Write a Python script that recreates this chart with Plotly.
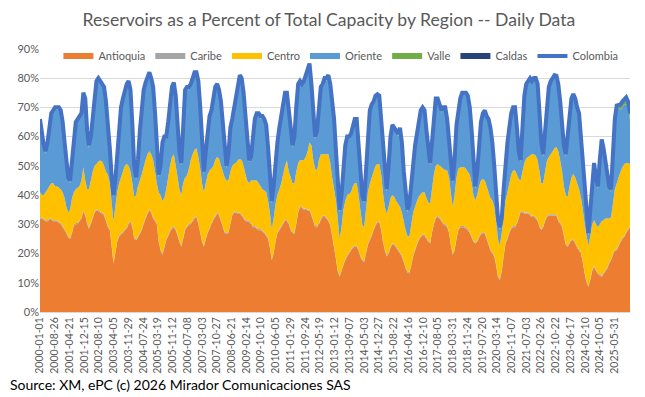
import plotly.graph_objects as go
import pandas as pd

# Monthly readings (percent of total national capacity), Jan 2000 .. Feb 2026
colombia = [
    66, 61, 57, 55, 58, 63, 68, 69, 70, 70, 70, 69,
    65, 58, 51, 46, 45, 52, 60, 65, 66, 67, 68, 75,
    73, 62, 57, 60, 67, 74, 79, 80, 79, 78, 77, 72,
    65, 56, 47, 40, 45, 55, 64, 70, 73, 76, 78, 79,
    76, 64, 50, 46, 52, 62, 70, 76, 78.5, 80, 82, 80,
    77, 68, 56, 47, 50, 58, 60, 60, 65, 72, 77, 78.5,
    74, 64, 55, 51, 65, 76, 77, 77, 78, 80, 82, 82,
    79, 70, 58, 48, 55, 63, 67, 69, 74, 77, 78, 76,
    72, 63, 55, 50, 54, 63, 66, 70, 75, 78, 81, 80,
    75, 67, 58, 52, 53, 60, 66, 68, 68, 67, 67, 66,
    64, 56, 46, 38, 43, 52, 58, 63, 67, 71, 75, 75,
    70, 63, 57, 60, 70, 78, 79, 78, 79, 81, 84, 85,
    78, 66, 60, 62, 72, 77, 78, 80, 80, 81, 78, 72,
    66, 55, 43, 35, 40, 50, 57, 60, 60, 61, 64, 66,
    66, 58, 48, 40, 38, 48, 62, 69, 71, 72, 74, 74.5,
    74, 66, 55, 47, 42, 50, 60, 64, 63, 62, 61, 63,
    58, 48, 40, 35, 37, 45, 52, 57, 61, 65, 69, 70,
    69, 62, 55, 51, 58, 68, 73, 73, 71, 69, 70, 70,
    66, 60, 52, 45, 52, 64, 70, 73, 75, 75, 75, 74,
    70, 62, 50, 43, 48, 58, 65, 68, 69, 67, 66, 63,
    58, 50, 40, 32, 29, 32, 42, 52, 58, 63, 68, 70,
    70, 63, 55, 52, 62, 74, 78, 79, 80, 79, 80, 80,
    78, 68, 58, 54, 62, 72, 77, 79, 80, 81, 80.8, 78,
    72, 64, 57, 54, 60, 68, 73, 74.6, 73, 70, 68, 60,
    52, 42, 33, 27, 35, 46, 51, 46, 43, 52, 59, 56,
    52, 47, 43, 42, 55, 66, 70.6, 71, 71, 72, 73, 73.4,
    72, 68,
]

antioquia = [
    32, 32, 31.5, 31, 31, 31.5, 31.5, 31, 31, 31, 30.5, 30,
    29, 28, 27, 25.5, 25, 27, 29.5, 30, 30, 31, 32, 34.5,
    33, 30, 28.5, 30, 32, 34, 34.7, 34.5, 34, 33.6, 33, 31,
    29, 28, 23, 16.5, 20, 24, 25.7, 26.5, 27, 28, 28.5, 30,
    30.8, 29, 25, 24.5, 25.5, 26.8, 28, 30, 32, 33.5, 34.7, 34,
    32, 31, 30, 24, 21, 19.5, 22, 24.5, 26, 27.5, 28.5, 29,
    28, 26, 24, 22.3, 25, 28, 29, 29.6, 30, 31, 32, 32.5,
    30, 27, 24, 22.3, 25, 27, 28.4, 30, 31.5, 32.5, 33.6, 33,
    31, 29, 27, 26.8, 27, 30, 33, 34, 34, 33.5, 33.6, 33,
    32, 31, 31, 30.8, 30, 29, 29, 28.5, 28, 28, 27.5, 27,
    26, 25, 22, 17.7, 20, 24, 27, 28, 29, 30, 31.4, 31,
    30, 28, 27, 26.8, 30, 34, 35.9, 35.5, 35, 35, 34.7, 34.7,
    33, 31, 29, 29, 30, 31.5, 32.5, 32.5, 32, 31, 29.5, 26,
    22, 18, 14, 12, 14, 16, 17.7, 19, 20, 21, 22, 22.3,
    22.3, 21, 19, 17.5, 17.1, 20, 23, 24.5, 26, 28, 29.5, 30.5,
    30.8, 28, 24, 21, 19, 20, 22, 23, 22.9, 22, 21, 20,
    19, 17, 15, 13.5, 13.2, 16, 19, 21, 23, 24.5, 25.7, 26,
    26, 25, 24, 23.4, 27, 30, 32, 32.5, 32, 31, 30, 29.5,
    29, 27, 23, 19.5, 21, 25, 28, 29, 29, 29, 28.5, 28,
    27, 25.5, 24, 23.4, 24, 25.5, 26.5, 27, 26.8, 25, 23, 21,
    20, 19, 16, 12, 10.9, 14, 19, 23.4, 25, 27, 28.5, 29,
    29, 30, 32, 34.2, 34, 33.6, 33.6, 33.6, 33, 32.5, 32.5, 32,
    31, 29, 28, 29, 31, 32.5, 33, 33, 33, 33, 33, 31,
    30.2, 29, 26, 23, 22.3, 23.5, 24.5, 24.5, 23.5, 22, 21, 20,
    17, 13, 10, 8.6, 11, 14, 15.5, 14, 13, 12.5, 12, 13,
    14, 15, 16.5, 17.7, 19.5, 21, 21.1, 22.5, 24, 25, 25.7, 27,
    28, 29,
]

caribe = [
    0.4, 0.4, 0.4, 0.4, 0.4, 0.4, 0.4, 0.4, 0.4, 0.4, 0.4, 0.4,
    0.4, 0.4, 0.4, 0.4, 0.4, 0.4, 0.4, 0.4, 0.4, 0.4, 0.4, 0.4,
    0.4, 0.4, 0.4, 0.4, 0.4, 0.4, 0.4, 0.4, 0.4, 0.4, 0.4, 0.4,
    0.4, 0.4, 0.4, 0.4, 0.4, 0.4, 0.4, 0.4, 0.4, 0.4, 0.4, 0.4,
    0.4, 0.4, 0.4, 0.4, 0.4, 0.4, 0.4, 0.4, 0.4, 0.4, 0.4, 0.4,
    0.4, 0.4, 0.4, 0.4, 0.4, 0.4, 0.4, 0.4, 0.4, 0.4, 0.4, 0.4,
    0.4, 0.4, 0.4, 0.4, 0.4, 0.4, 0.4, 0.4, 0.4, 0.4, 0.4, 0.4,
    0.4, 0.4, 0.4, 0.4, 0.4, 0.4, 0.4, 0.4, 0.4, 0.4, 0.4, 0.4,
    0.4, 0.4, 0.4, 0.4, 0.4, 0.4, 0.4, 0.4, 0.4, 0.4, 0.4, 0.4,
    0.4, 0.4, 0.4, 0.4, 0.4, 0.4, 0.4, 0.4, 0.4, 0.4, 0.4, 0.4,
    0.4, 0.4, 0.4, 0.4, 0.4, 0.4, 0.4, 0.4, 0.4, 0.4, 0.4, 0.4,
    0.4, 0.4, 0.4, 0.4, 0.4, 0.4, 0.4, 0.4, 0.4, 0.4, 0.4, 0.4,
    0.4, 0.4, 0.4, 0.4, 0.4, 0.4, 0.4, 0.4, 0.4, 0.4, 0.4, 0.4,
    0.4, 0.4, 0.4, 0.4, 0.4, 0.4, 0.4, 0.4, 0.4, 0.4, 0.4, 0.4,
    0.4, 0.4, 0.4, 0.4, 0.4, 0.4, 0.4, 0.4, 0.4, 0.4, 0.4, 0.4,
    0.4, 0.4, 0.4, 0.4, 0.4, 0.4, 0.4, 0.4, 0.4, 0.4, 0.4, 0.4,
    0.4, 0.4, 0.4, 0.4, 0.4, 0.4, 0.4, 0.4, 0.4, 0.4, 0.4, 0.4,
    0.4, 0.4, 0.4, 0.4, 0.4, 0.4, 0.4, 0.4, 0.4, 0.4, 0.4, 0.4,
    0.4, 0.4, 0.4, 0.4, 0.4, 0.4, 0.4, 0.4, 0.4, 0.4, 0.4, 0.4,
    0.4, 0.4, 0.4, 0.4, 0.4, 0.4, 0.4, 0.4, 0.4, 0.4, 0.4, 0.4,
    0.4, 0.4, 0.4, 0.4, 0.4, 0.4, 0.4, 0.4, 0.4, 0.4, 0.4, 0.4,
    0.4, 0.4, 0.4, 0.4, 0.4, 0.4, 0.4, 0.4, 0.4, 0.4, 0.4, 0.4,
    0.4, 0.4, 0.4, 0.4, 0.4, 0.4, 0.4, 0.4, 0.4, 0.4, 0.4, 0.4,
    0.4, 0.4, 0.4, 0.4, 0.4, 0.4, 0.4, 0.4, 0.4, 0.4, 0.4, 0.4,
    0.4, 0.4, 0.4, 0.4, 0.4, 0.4, 0.4, 0.4, 0.4, 0.4, 0.4, 0.4,
    0.4, 0.4, 0.4, 0.4, 0.4, 0.4, 0.4, 0.4, 0.4, 0.4, 0.4, 0.4,
    0.4, 0.4,
]

centro = [
    8.6, 7.6, 8.1, 9.6, 10.6, 11.1, 12.1, 12.6, 11.6, 11.6, 11.6, 11.6,
    11.6, 10.6, 8.6, 8.1, 9.6, 11.6, 11.1, 11.6, 12.1, 11.6, 12.6, 14.6,
    11.6, 11.6, 13.1, 14.6, 15.6, 15.6, 15.5, 16.6, 17.4, 17.5, 16.6, 16.6,
    17.6, 15.6, 14.6, 14.1, 15.6, 16.6, 17.9, 19.1, 20.6, 21.6, 21.7, 19.6,
    16.8, 14.6, 13.9, 15.1, 17.1, 17.8, 18.6, 19.1, 19.6, 20.1, 19.9, 19.6,
    19.6, 16.6, 13.6, 16.6, 18.6, 18.1, 16.6, 17.1, 19.6, 22.1, 24.1, 24.6,
    21.6, 19.6, 17.6, 17.3, 18.6, 17.6, 17.3, 19.0, 21.6, 22.6, 23.1, 23.1,
    22.6, 21.6, 19.6, 18.3, 18.6, 19.6, 19.6, 18.6, 18.1, 19.1, 19.0, 19.1,
    18.6, 18.6, 18.6, 17.8, 17.6, 17.6, 16.6, 16.2, 16.6, 18.1, 18.3, 18.6,
    17.6, 15.6, 13.6, 12.8, 14.6, 15.6, 15.6, 16.1, 15.6, 14.6, 14.1, 14.2,
    14.6, 12.6, 11.6, 10.4, 11.6, 12.6, 12.6, 13.6, 14.6, 16.6, 18.2, 20.4,
    17.6, 17.6, 16.6, 16.8, 17.6, 16.6, 15.7, 15.9, 16.6, 17.6, 19.9, 22.9,
    23.6, 20.6, 19.6, 19.0, 21.6, 22.1, 21.1, 21.1, 21.6, 22.6, 21.1, 19.6,
    19.6, 19.6, 17.6, 12.6, 14.6, 18.6, 19.9, 20.6, 20.0, 19.6, 20.6, 21.3,
    21.3, 18.6, 15.6, 12.1, 11.5, 14.6, 17.6, 19.0, 19.6, 19.6, 20.1, 19.7,
    19.4, 18.6, 16.6, 14.6, 14.2, 15.6, 16.6, 16.6, 16.0, 15.6, 15.6, 15.6,
    14.6, 13.6, 12.6, 12.1, 12.1, 13.6, 14.6, 14.6, 14.6, 14.6, 14.3, 14.6,
    14.6, 13.6, 13.1, 13.2, 14.6, 16.6, 17.6, 17.7, 17.6, 18.1, 18.6, 18.6,
    19.0, 18.6, 17.6, 16.1, 18.6, 20.6, 20.6, 20.1, 20.1, 20.1, 20.1, 19.6,
    19.6, 18.1, 15.6, 14.4, 15.6, 17.1, 18.1, 18.1, 17.8, 17.6, 17.6, 17.6,
    17.8, 16.6, 14.6, 12.6, 11.5, 12.6, 13.6, 14.4, 15.6, 16.6, 18.1, 19.0,
    19.0, 16.6, 13.1, 10.4, 13.6, 17.0, 18.5, 19.0, 20.1, 21.1, 21.1, 21.1,
    20.6, 18.6, 15.6, 14.6, 16.6, 18.9, 19.6, 20.6, 21.6, 22.6, 23.0, 23.6,
    21.2, 18.6, 16.6, 16.6, 16.6, 19.1, 21.1, 22.3, 22.1, 21.6, 20.6, 18.9,
    17.6, 16.6, 15.6, 13.8, 14.6, 15.6, 15.5, 15.6, 15.6, 17.1, 18.6, 18.1,
    17.6, 16.6, 15.1, 14.4, 17.1, 20.6, 22.4, 23.1, 23.6, 24.1, 24.5, 23.6,
    22.6, 21.2,
]

oriente = [
    24.2, 20.2, 16.2, 13.2, 15.2, 19.2, 23.2, 24.2, 26.2, 26.2, 26.7, 26.2,
    23.2, 18.2, 14.2, 11.2, 9.2, 12.2, 18.2, 22.2, 22.7, 23.2, 22.2, 24.7,
    27.2, 19.2, 14.2, 14.2, 18.2, 23.2, 27.6, 27.7, 26.4, 25.7, 26.2, 23.2,
    17.2, 11.2, 8.2, 8.2, 8.2, 13.2, 19.2, 23.2, 24.2, 25.2, 26.6, 28.2,
    27.2, 19.2, 9.9, 5.2, 8.2, 16.2, 22.2, 25.7, 25.7, 25.2, 26.2, 25.2,
    24.2, 19.2, 11.2, 5.2, 9.2, 19.2, 20.2, 17.2, 18.2, 21.2, 23.2, 23.7,
    23.2, 17.2, 12.2, 10.2, 20.2, 29.2, 29.5, 27.2, 25.2, 25.2, 25.7, 25.2,
    25.2, 20.2, 13.2, 6.2, 10.2, 15.2, 17.8, 19.2, 23.2, 24.2, 24.2, 22.7,
    21.2, 14.2, 8.2, 4.2, 8.2, 14.2, 15.2, 18.6, 23.2, 25.2, 27.9, 27.2,
    24.2, 19.2, 12.2, 7.2, 7.2, 14.2, 20.2, 22.2, 23.2, 23.2, 24.2, 23.6,
    22.2, 17.2, 11.2, 8.7, 10.2, 14.2, 17.2, 20.2, 22.2, 23.2, 24.2, 22.4,
    21.2, 16.2, 12.2, 15.2, 21.2, 26.2, 26.2, 25.4, 26.2, 27.2, 28.2, 26.2,
    20.2, 13.2, 10.2, 12.8, 19.2, 22.2, 23.2, 25.2, 25.2, 26.2, 26.2, 25.2,
    23.2, 16.2, 10.2, 9.2, 10.2, 14.2, 18.2, 19.2, 18.8, 19.2, 20.2, 21.2,
    21.2, 17.2, 12.2, 9.2, 8.2, 12.2, 20.2, 24.3, 24.2, 23.2, 23.2, 23.1,
    22.6, 18.2, 13.2, 10.2, 7.6, 13.2, 20.2, 23.2, 22.9, 23.2, 23.2, 26.2,
    23.2, 16.2, 11.2, 8.2, 10.5, 14.2, 17.2, 20.2, 22.2, 24.7, 27.8, 28.2,
    27.2, 22.2, 16.7, 13.2, 15.2, 20.2, 22.2, 21.6, 20.2, 18.7, 20.2, 20.7,
    16.8, 13.2, 10.2, 8.2, 11.2, 17.2, 20.2, 22.7, 24.7, 24.7, 25.2, 25.2,
    22.2, 17.2, 9.2, 4.0, 7.2, 14.2, 19.2, 21.7, 23.2, 23.2, 24.2, 23.2,
    19.0, 13.2, 8.2, 6.2, 5.4, 4.2, 8.2, 13.0, 16.2, 18.2, 20.2, 20.8,
    20.8, 15.2, 8.7, 6.2, 13.2, 22.2, 24.7, 25.2, 25.7, 24.2, 25.2, 25.7,
    25.2, 19.2, 13.2, 9.2, 13.2, 19.4, 23.2, 24.2, 24.2, 24.2, 23.6, 22.2,
    19.4, 15.2, 13.2, 13.2, 19.9, 24.2, 26.2, 26.6, 26.2, 25.2, 25.2, 19.9,
    16.2, 11.2, 6.2, 3.4, 8.2, 15.2, 18.8, 15.2, 13.2, 21.2, 27.2, 23.7,
    19.1, 14.1, 10.1, 8.6, 17.1, 23.1, 25.4, 23.5, 21.2, 20.5, 20.3, 20.1,
    18.7, 15.1,
]

valle = [
    0.5, 0.5, 0.5, 0.5, 0.5, 0.5, 0.5, 0.5, 0.5, 0.5, 0.5, 0.5,
    0.5, 0.5, 0.5, 0.5, 0.5, 0.5, 0.5, 0.5, 0.5, 0.5, 0.5, 0.5,
    0.5, 0.5, 0.5, 0.5, 0.5, 0.5, 0.5, 0.5, 0.5, 0.5, 0.5, 0.5,
    0.5, 0.5, 0.5, 0.5, 0.5, 0.5, 0.5, 0.5, 0.5, 0.5, 0.5, 0.5,
    0.5, 0.5, 0.5, 0.5, 0.5, 0.5, 0.5, 0.5, 0.5, 0.5, 0.5, 0.5,
    0.5, 0.5, 0.5, 0.5, 0.5, 0.5, 0.5, 0.5, 0.5, 0.5, 0.5, 0.5,
    0.5, 0.5, 0.5, 0.5, 0.5, 0.5, 0.5, 0.5, 0.5, 0.5, 0.5, 0.5,
    0.5, 0.5, 0.5, 0.5, 0.5, 0.5, 0.5, 0.5, 0.5, 0.5, 0.5, 0.5,
    0.5, 0.5, 0.5, 0.5, 0.5, 0.5, 0.5, 0.5, 0.5, 0.5, 0.5, 0.5,
    0.5, 0.5, 0.5, 0.5, 0.5, 0.5, 0.5, 0.5, 0.5, 0.5, 0.5, 0.5,
    0.5, 0.5, 0.5, 0.5, 0.5, 0.5, 0.5, 0.5, 0.5, 0.5, 0.5, 0.5,
    0.5, 0.5, 0.5, 0.5, 0.5, 0.5, 0.5, 0.5, 0.5, 0.5, 0.5, 0.5,
    0.5, 0.5, 0.5, 0.5, 0.5, 0.5, 0.5, 0.5, 0.5, 0.5, 0.5, 0.5,
    0.5, 0.5, 0.5, 0.5, 0.5, 0.5, 0.5, 0.5, 0.5, 0.5, 0.5, 0.5,
    0.5, 0.5, 0.5, 0.5, 0.5, 0.5, 0.5, 0.5, 0.5, 0.5, 0.5, 0.5,
    0.5, 0.5, 0.5, 0.5, 0.5, 0.5, 0.5, 0.5, 0.5, 0.5, 0.5, 0.5,
    0.5, 0.5, 0.5, 0.5, 0.5, 0.5, 0.5, 0.5, 0.5, 0.5, 0.5, 0.5,
    0.5, 0.5, 0.5, 0.5, 0.5, 0.5, 0.5, 0.5, 0.5, 0.5, 0.5, 0.5,
    0.5, 0.5, 0.5, 0.5, 0.5, 0.5, 0.5, 0.5, 0.5, 0.5, 0.5, 0.5,
    0.5, 0.5, 0.5, 0.5, 0.5, 0.5, 0.5, 0.5, 0.5, 0.5, 0.5, 0.5,
    0.5, 0.5, 0.5, 0.5, 0.5, 0.5, 0.5, 0.5, 0.5, 0.5, 0.5, 0.5,
    0.5, 0.5, 0.5, 0.5, 0.5, 0.5, 0.5, 0.5, 0.5, 0.5, 0.5, 0.5,
    0.5, 0.5, 0.5, 0.5, 0.5, 0.5, 0.5, 0.5, 0.5, 0.5, 0.5, 0.5,
    0.5, 0.5, 0.5, 0.5, 0.5, 0.5, 0.5, 0.5, 0.5, 0.5, 0.5, 0.5,
    0.5, 0.5, 0.5, 0.5, 0.5, 0.5, 0.5, 0.5, 0.5, 0.5, 0.5, 0.5,
    0.6, 0.6, 0.6, 0.6, 0.6, 0.6, 1.0, 1.2, 1.5, 1.7, 1.8, 2.0,
    2.0, 2.0,
]

caldas = [
    0.3, 0.3, 0.3, 0.3, 0.3, 0.3, 0.3, 0.3, 0.3, 0.3, 0.3, 0.3,
    0.3, 0.3, 0.3, 0.3, 0.3, 0.3, 0.3, 0.3, 0.3, 0.3, 0.3, 0.3,
    0.3, 0.3, 0.3, 0.3, 0.3, 0.3, 0.3, 0.3, 0.3, 0.3, 0.3, 0.3,
    0.3, 0.3, 0.3, 0.3, 0.3, 0.3, 0.3, 0.3, 0.3, 0.3, 0.3, 0.3,
    0.3, 0.3, 0.3, 0.3, 0.3, 0.3, 0.3, 0.3, 0.3, 0.3, 0.3, 0.3,
    0.3, 0.3, 0.3, 0.3, 0.3, 0.3, 0.3, 0.3, 0.3, 0.3, 0.3, 0.3,
    0.3, 0.3, 0.3, 0.3, 0.3, 0.3, 0.3, 0.3, 0.3, 0.3, 0.3, 0.3,
    0.3, 0.3, 0.3, 0.3, 0.3, 0.3, 0.3, 0.3, 0.3, 0.3, 0.3, 0.3,
    0.3, 0.3, 0.3, 0.3, 0.3, 0.3, 0.3, 0.3, 0.3, 0.3, 0.3, 0.3,
    0.3, 0.3, 0.3, 0.3, 0.3, 0.3, 0.3, 0.3, 0.3, 0.3, 0.3, 0.3,
    0.3, 0.3, 0.3, 0.3, 0.3, 0.3, 0.3, 0.3, 0.3, 0.3, 0.3, 0.3,
    0.3, 0.3, 0.3, 0.3, 0.3, 0.3, 0.3, 0.3, 0.3, 0.3, 0.3, 0.3,
    0.3, 0.3, 0.3, 0.3, 0.3, 0.3, 0.3, 0.3, 0.3, 0.3, 0.3, 0.3,
    0.3, 0.3, 0.3, 0.3, 0.3, 0.3, 0.3, 0.3, 0.3, 0.3, 0.3, 0.3,
    0.3, 0.3, 0.3, 0.3, 0.3, 0.3, 0.3, 0.3, 0.3, 0.3, 0.3, 0.3,
    0.3, 0.3, 0.3, 0.3, 0.3, 0.3, 0.3, 0.3, 0.3, 0.3, 0.3, 0.3,
    0.3, 0.3, 0.3, 0.3, 0.3, 0.3, 0.3, 0.3, 0.3, 0.3, 0.3, 0.3,
    0.3, 0.3, 0.3, 0.3, 0.3, 0.3, 0.3, 0.3, 0.3, 0.3, 0.3, 0.3,
    0.3, 0.3, 0.3, 0.3, 0.3, 0.3, 0.3, 0.3, 0.3, 0.3, 0.3, 0.3,
    0.3, 0.3, 0.3, 0.3, 0.3, 0.3, 0.3, 0.3, 0.3, 0.3, 0.3, 0.3,
    0.3, 0.3, 0.3, 0.3, 0.3, 0.3, 0.3, 0.3, 0.3, 0.3, 0.3, 0.3,
    0.3, 0.3, 0.3, 0.3, 0.3, 0.3, 0.3, 0.3, 0.3, 0.3, 0.3, 0.3,
    0.3, 0.3, 0.3, 0.3, 0.3, 0.3, 0.3, 0.3, 0.3, 0.3, 0.3, 0.3,
    0.3, 0.3, 0.3, 0.3, 0.3, 0.3, 0.3, 0.3, 0.3, 0.3, 0.3, 0.3,
    0.3, 0.3, 0.3, 0.3, 0.3, 0.3, 0.3, 0.3, 0.3, 0.3, 0.3, 0.3,
    0.3, 0.3, 0.3, 0.3, 0.3, 0.3, 0.3, 0.3, 0.3, 0.3, 0.3, 0.3,
    0.3, 0.3,
]

tick_labels = [
    "2000-01-01", "2000-08-26", "2001-04-21", "2001-12-15", "2002-08-10",
    "2003-04-05", "2003-11-29", "2004-07-24", "2005-03-19", "2005-11-12",
    "2006-07-08", "2007-03-03", "2007-10-27", "2008-06-21", "2009-02-14",
    "2009-10-10", "2010-06-05", "2011-01-29", "2011-09-24", "2012-05-19",
    "2013-01-12", "2013-09-07", "2014-05-03", "2014-12-27", "2015-08-22",
    "2016-04-16", "2016-12-10", "2017-08-05", "2018-03-31", "2018-11-24",
    "2019-07-20", "2020-03-14", "2020-11-07", "2021-07-03", "2022-02-26",
    "2022-10-22", "2023-06-17", "2024-02-10", "2024-10-05", "2025-05-31",
]

dates = pd.date_range("2000-01-01", periods=len(colombia), freq="MS")

FONT = "Lato"
GREY = "#595959"

regions = [
    ("Antioquia", antioquia, "#ED7D31"),
    ("Caribe", caribe, "#A5A5A5"),
    ("Centro", centro, "#FFC000"),
    ("Oriente", oriente, "#5B9BD5"),
    ("Valle", valle, "#70AD47"),
    ("Caldas", caldas, "#264478"),
]

fig = go.Figure()
for name, vals, col in regions:
    fig.add_trace(go.Scatter(
        x=dates, y=vals, name=name, stackgroup="one", mode="none",
        fillcolor=col, line=dict(width=0), hoverinfo="skip",
    ))
fig.add_trace(go.Scatter(
    x=dates, y=colombia, name="Colombia", mode="lines",
    line=dict(color="#4472C4", width=4),
))

fig.update_layout(
    width=645, height=397,
    margin=dict(l=40, r=15, t=48, b=85, autoexpand=False),
    paper_bgcolor="white", plot_bgcolor="white",
    font=dict(family=FONT, color=GREY, size=11),
    title=dict(
        text="Reservoirs as a Percent of Total Capacity by Region -- Daily Data",
        x=0.51, xanchor="center", y=1 - 20 / 397, yanchor="middle",
        font=dict(family=FONT, size=17.6, color=GREY),
    ),
    showlegend=True,
    legend=dict(
        orientation="h", x=0.51, xanchor="center", y=0.97, yanchor="middle",
        bgcolor="rgba(0,0,0,0)", font=dict(family=FONT, size=11, color=GREY),
        itemwidth=30, traceorder="normal",
    ),
    xaxis=dict(
        type="date", range=[dates[0], dates[-1]],
        tickmode="array", tickvals=tick_labels, ticktext=tick_labels,
        tickangle=-90, tickfont=dict(family=FONT, size=10.5, color=GREY),
        showgrid=False, showline=True, linecolor="#D9D9D9", linewidth=1,
        ticks="", zeroline=False,
    ),
    yaxis=dict(
        range=[0, 90.3], tickmode="array",
        tickvals=[0, 10, 20, 30, 40, 50, 60, 70, 80, 90],
        ticktext=["0%", "10%", "20%", "30%", "40%", "50%", "60%", "70%", "80%", "90%"],
        tickfont=dict(family=FONT, size=11, color=GREY),
        showgrid=True, gridcolor="#D9D9D9", gridwidth=1,
        zeroline=False, ticks="", showline=False,
    ),
    annotations=[dict(
        text="Source: XM, ePC (c) 2026 Mirador Comunicaciones SAS",
        xref="paper", yref="paper", x=-32 / 590, y=-(385 - 312) / 264,
        xanchor="left", yanchor="middle", showarrow=False,
        font=dict(family=FONT, size=14, color="black"),
    )],
)

fig.write_html(
    "out.html",
    config={"displayModeBar": False},
    post_script="document.body.style.margin='0';document.body.style.padding='0';",
)
